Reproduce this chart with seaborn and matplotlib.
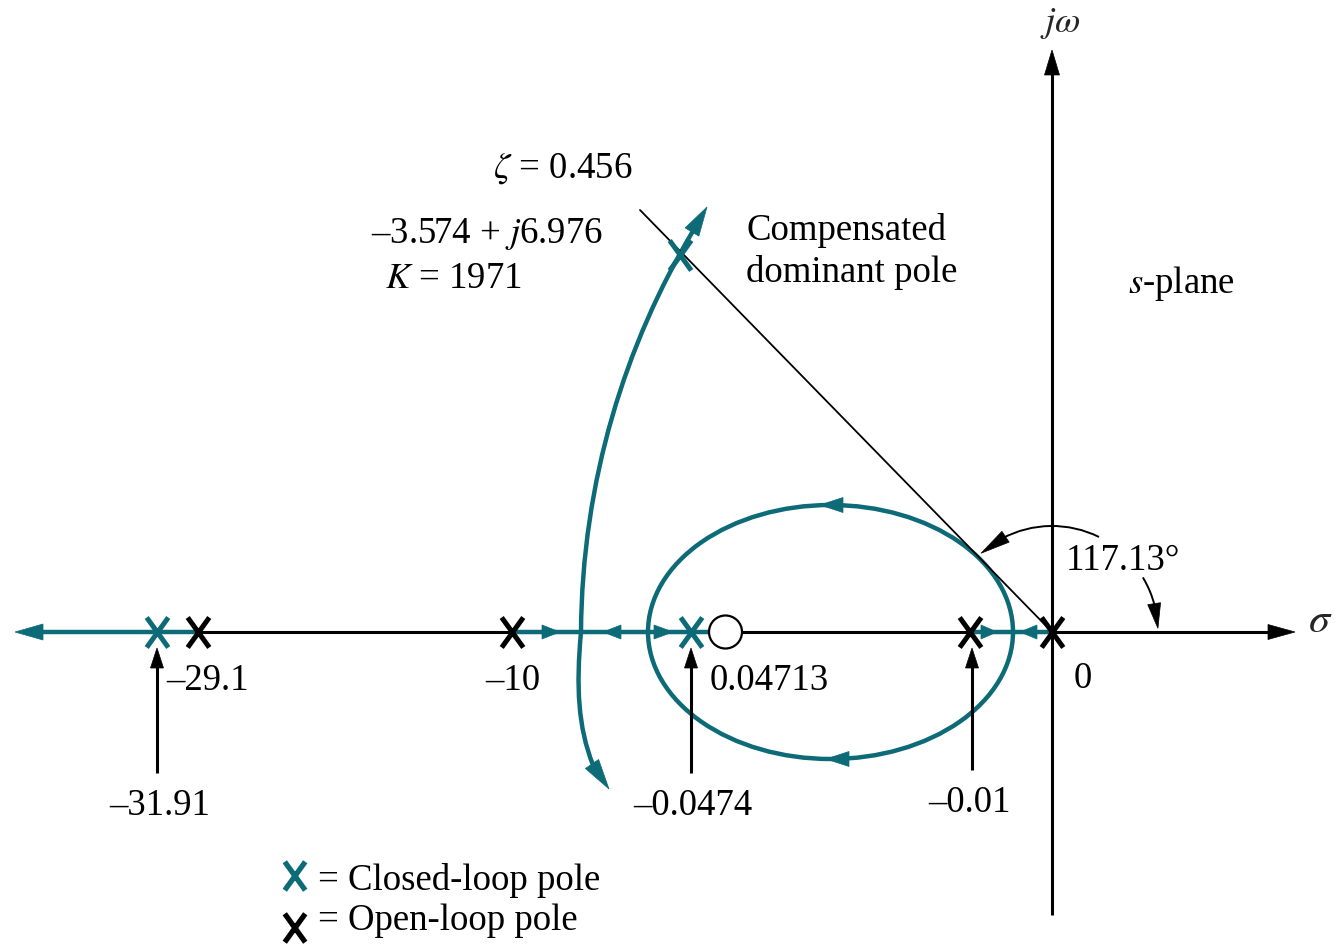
import numpy as np
import pandas as pd
import matplotlib
matplotlib.use("Agg")
import matplotlib.pyplot as plt
from matplotlib.path import Path
from matplotlib.patches import Ellipse, Circle, PathPatch, Polygon, Arc
import seaborn as sns

# ---- values shown on the root-locus sketch ----
open_loop_poles = [-29.1, -10, -0.01, 0]
closed_loop_poles = [-31.91, -0.0474]
zero_label = 0.04713
dominant_re, dominant_im = -3.574, 6.976
gain_K = 1971
zeta = 0.456
zeta_angle = 117.13

# ---- schematic layout (not to scale), origin at s = 0 ----
ol_u = [-854, -540, -82, 0]
cl_u = [-895, -361]
dom_uv = (-372, 377)
zero_u = -326.5

TEAL = "#0d6b77"
BLACK = "black"

sns.set_theme(style="white")
plt.rcParams["font.family"] = ["Liberation Serif", "DejaVu Serif"]
plt.rcParams["mathtext.fontset"] = "stix"
FS = 26.5

fig = plt.figure(figsize=(13.38, 9.46), dpi=100)
ax = fig.add_axes([0, 0, 1, 1])
ax.set_xlim(-1052, 286)
ax.set_ylim(-314, 632)
ax.axis("off")


def head(tip, base, width, color, z=5):
    tip = np.asarray(tip, float)
    base = np.asarray(base, float)
    d = tip - base
    n = np.array([-d[1], d[0]]) / np.hypot(*d) * width / 2
    ax.add_patch(Polygon([tip, base + n, base - n], closed=True,
                         facecolor=color, edgecolor=color, lw=0.5, zorder=z))


def fmt(v):
    return ("–" if v < 0 else "") + f"{abs(v):g}"


# ---- s-plane axes ----
ax.plot([-854, 218], [0, 0], color=BLACK, lw=2.2, zorder=1, solid_capstyle="butt")
head((243, 0), (216, 0), 15, BLACK)
ax.plot([0, 0], [-283, 559], color=BLACK, lw=2.2, zorder=1, solid_capstyle="butt")
head((0, 582), (0, 557), 15, BLACK)

# ---- zeta line ----
ax.plot([-412, 0], [422, 0], color=BLACK, lw=1.3, zorder=3)

# ---- loci on the real axis ----
segs = pd.DataFrame({
    "u": [-1012, -854, -540, -342, -82, 0],
    "v": [0, 0, 0, 0, 0, 0],
    "seg": ["a", "a", "b", "b", "c", "c"],
})
sns.lineplot(data=segs, x="u", y="v", units="seg", estimator=None, sort=False,
             color=TEAL, lw=3.2, ax=ax, zorder=2, legend=False)
head((-1037, 0), (-1009, 0), 16, TEAL)
for tip, base in [((-492, 0), (-510, 0)), ((-449, 0), (-431, 0)),
                  ((-379, 0), (-398, 0)), ((-55, 0), (-71, 0)),
                  ((-32, 0), (-15, 0))]:
    head(tip, base, 14, TEAL)

# ---- breakaway loop around the zero ----
ax.add_patch(Ellipse((-221.5, 0), 365, 254, fill=False, ec=TEAL, lw=3.2, zorder=2))
head((-232, 127), (-209, 127), 15, TEAL)
head((-226, -127), (-203, -127), 15, TEAL)

# ---- outer branch through the dominant pole ----
C4 = [Path.MOVETO, Path.CURVE4, Path.CURVE4, Path.CURVE4]
upper = Path([(-471, 0), (-470, 152), (-426, 289), (-359, 401)], C4)
lower = Path([(-471, 0), (-476, -55), (-474, -95), (-459, -133)], C4)
for p in (upper, lower):
    ax.add_patch(PathPatch(p, fill=False, ec=TEAL, lw=3.2, zorder=2,
                           capstyle="butt"))
head((-345, 425), (-360, 400), 16, TEAL)
head((-443, -157), (-460, -132), 16, TEAL)

# ---- zero ----
ax.add_patch(Circle((zero_u, 0), 16.5, fc="white", ec=BLACK, lw=1.6, zorder=4))

# ---- pole markers ----
XMARK = Path([(-0.72, -1), (0.72, 1), (-0.72, 1), (0.72, -1)],
             [Path.MOVETO, Path.LINETO, Path.MOVETO, Path.LINETO])
ol_df = pd.DataFrame({"u": ol_u, "v": [0] * len(ol_u)})
cl_df = pd.DataFrame({"u": cl_u + [dom_uv[0]], "v": [0, 0, dom_uv[1]]})
sns.scatterplot(data=ol_df, x="u", y="v", marker=XMARK, s=466, color=BLACK,
                edgecolor=BLACK, linewidth=3.6, ax=ax, zorder=6, legend=False)
sns.scatterplot(data=cl_df, x="u", y="v", marker=XMARK, s=466, color=TEAL,
                edgecolor=TEAL, linewidth=3.6, ax=ax, zorder=6, legend=False)

# ---- pointer arrows to the poles ----
for u, v0 in [(cl_u[0], -141), (cl_u[1], -141), (ol_u[2] + 2, -138)]:
    ax.plot([u, u], [v0, -30], color=BLACK, lw=2.2, zorder=3, solid_capstyle="butt")
    head((u, -16), (u, -36), 13, BLACK)

# ---- angle arcs ----
R = 106
ax.add_patch(Arc((0, 0), 2 * R, 2 * R, theta1=63.7, theta2=118, color=BLACK, lw=1.4, zorder=3))
a_tip, a_base = np.deg2rad(132), np.deg2rad(116)
head((R * np.cos(a_tip), R * np.sin(a_tip)), (R * np.cos(a_base), R * np.sin(a_base)), 13, BLACK)
ax.add_patch(Arc((0, 0), 2 * R, 2 * R, theta1=14, theta2=31, color=BLACK, lw=1.4, zorder=3))
a_tip, a_base = np.deg2rad(2), np.deg2rad(15.5)
head((R * np.cos(a_tip), R * np.sin(a_tip)), (R * np.cos(a_base), R * np.sin(a_base)), 13, BLACK)

# ---- labels ----
T = dict(fontsize=FS, color=BLACK, va="baseline", zorder=7)
ax.text(-844, -58, fmt(open_loop_poles[0]), ha="center", **T)
ax.text(-539, -58, fmt(open_loop_poles[1]), ha="center", **T)
ax.text(-82, -180, fmt(open_loop_poles[2]), ha="center", **T)
ax.text(31, -56, fmt(open_loop_poles[3]), ha="center", **T)
ax.text(-892, -183, fmt(closed_loop_poles[0]), ha="center", **T)
ax.text(-359, -183, fmt(closed_loop_poles[1]), ha="center", **T)
ax.text(-283, -58, fmt(zero_label), ha="center", **T)
ax.text(71, 62, f"{zeta_angle}°", ha="center", **T)
ax.text(268, 0, r"$\sigma$", ha="center", fontsize=FS + 4, va="baseline", zorder=7)
ax.text(8, 600, r"$j\omega$", ha="center", fontsize=FS, va="baseline", zorder=7)
ax.text(129.5, 339, r"$s$-plane", ha="center", **T)
ax.text(-489.5, 454, rf"$\zeta$ = {zeta}", ha="center", **T)
ax.text(-564.5, 389, f"–{abs(dominant_re)} + $j${dominant_im}", ha="center", **T)
ax.text(-598.5, 344, f"$K$ = {gain_K}", ha="center", **T)
ax.text(-306, 392, "Compensated", ha="left", **T)
ax.text(-306, 350, "dominant pole", ha="left", **T)

# ---- key ----
key_df = pd.DataFrame({"u": [-757, -757], "v": [-244, -296], "kind": ["cl", "ol"]})
sns.scatterplot(data=key_df, x="u", y="v", hue="kind", palette={"cl": TEAL, "ol": BLACK},
                marker=XMARK, s=420, linewidth=3.8, ax=ax, zorder=6, legend=False)
for coll in ax.collections[-1:]:
    coll.set_edgecolors([TEAL, BLACK])
ax.text(-734, -258, "= Closed-loop pole", ha="left", **T)
ax.text(-734, -298, "= Open-loop pole", ha="left", **T)

fig.savefig("out.png", dpi=100, facecolor="white")
